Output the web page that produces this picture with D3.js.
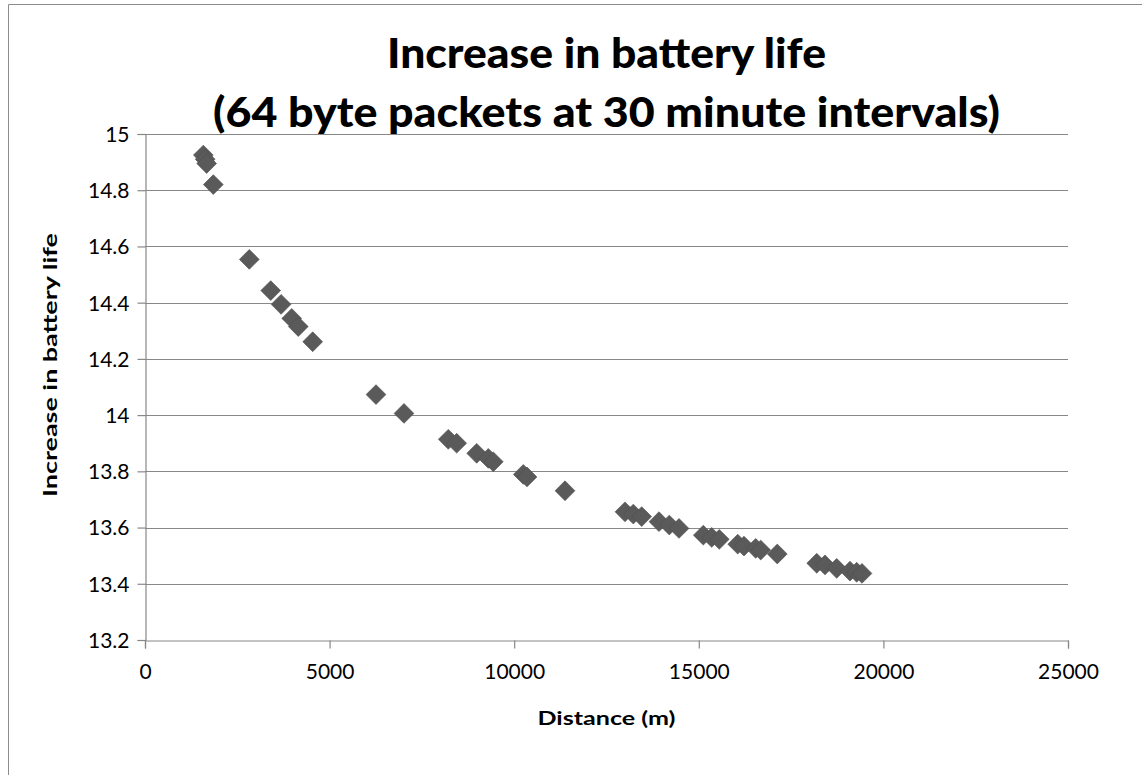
<!DOCTYPE html>
<html>
<head>
<meta charset="utf-8">
<script src="https://cdn.jsdelivr.net/npm/d3@7"></script>
<style>
  html, body { margin: 0; padding: 0; background: #fff; overflow: hidden; }
  svg { display: block; }
  text { font-family: "Lato", "Liberation Sans", sans-serif; fill: #000; }
</style>
</head>
<body>
<svg id="chart" width="1142" height="775"></svg>
<script>
// ---- data ----
const titleLines = ["Increase in battery life", "(64 byte packets at 30 minute intervals)"];
const xTitle = "Distance (m)";
const yTitle = "Increase in battery life";
const xTicks = [0, 5000, 10000, 15000, 20000, 25000];
const yTicks = [13.2, 13.4, 13.6, 13.8, 14, 14.2, 14.4, 14.6, 14.8, 15];
const distance = [1580, 1630, 1670, 1850, 2825, 3405, 3686, 3974, 4152, 4542,
  6257, 7015, 8215, 8442, 8984, 9299, 9434, 10246, 10347, 11376,
  13001, 13226, 13453, 13922, 14201, 14464, 15122, 15350, 15555, 16054,
  16224, 16541, 16677, 17126, 18194, 18418, 18735, 19095, 19276, 19420];
const batteryIncrease = [14.925, 14.91, 14.895, 14.82, 14.554, 14.443, 14.394, 14.344, 14.315, 14.261,
  14.073, 14.006, 13.914, 13.90, 13.864, 13.846, 13.834, 13.789, 13.78, 13.731,
  13.656, 13.648, 13.639, 13.621, 13.609, 13.597, 13.573, 13.565, 13.558, 13.541,
  13.534, 13.526, 13.520, 13.506, 13.473, 13.467, 13.455, 13.445, 13.441, 13.437];

// ---- layout ----
const svg = d3.select("#chart");
const plot = { left: 145, right: 1068, top: 134, bottom: 640 };
const gridColor = "#888888";

// outer chart border (only top/left edges fall inside the frame)
svg.append("path").attr("d", "M8.5,775 V4.5 H1142")
  .attr("fill", "none").attr("stroke", "#8c8c8c").attr("stroke-width", 1);

const x = d3.scaleLinear().domain([0, 25000]).range([plot.left, plot.right]);
const y = d3.scaleLinear().domain([13.2, 15]).range([plot.bottom, plot.top]);

// gridlines
svg.append("g").selectAll("line").data(yTicks.filter(d => d > 13.2)).join("line")
  .attr("x1", plot.left).attr("x2", plot.right)
  .attr("y1", d => Math.round(y(d)) + 0.5).attr("y2", d => Math.round(y(d)) + 0.5)
  .attr("stroke", gridColor).attr("stroke-width", 1.2);

// y axis
const yAxis = d3.axisLeft(y).tickValues(yTicks).tickSize(8).tickPadding(8)
  .tickFormat(d => d3.format("")(+d.toFixed(1)));
const gy = svg.append("g").attr("transform", `translate(${plot.left + 0.5},0)`).call(yAxis);
gy.select(".domain").attr("stroke", gridColor).attr("stroke-width", 1.2);
gy.selectAll(".tick line").attr("stroke", gridColor).attr("stroke-width", 1.2);
gy.selectAll(".tick text").attr("font-size", 21).attr("font-family", "Lato, 'Liberation Sans', sans-serif")
  .attr("fill", "#000").attr("dy", "0.35em");

// x axis
const xAxis = d3.axisBottom(x).tickValues(xTicks).tickSize(8).tickPadding(16).tickFormat(d3.format("d"));
const gx = svg.append("g").attr("transform", `translate(0,${plot.bottom + 0.5})`).call(xAxis);
gx.select(".domain").attr("stroke", gridColor).attr("stroke-width", 1.2);
gx.selectAll(".tick line").attr("stroke", gridColor).attr("stroke-width", 1.2);
gx.selectAll(".tick text").attr("font-size", 21).attr("font-family", "Lato, 'Liberation Sans', sans-serif")
  .attr("fill", "#000");

// markers
const diamond = d3.symbol().type(d3.symbolSquare).size(196)();
svg.append("g").selectAll("path").data(distance.map((d, i) => [d, batteryIncrease[i]])).join("path")
  .attr("d", diamond)
  .attr("transform", d => `translate(${x(d[0])},${y(d[1])}) rotate(45)`)
  .attr("fill", "#5a5a5a").attr("stroke", "#505050").attr("stroke-width", 0.6);

// title
const cx = (plot.left + plot.right) / 2;
svg.append("text").attr("x", cx).attr("y", 68).attr("text-anchor", "middle")
  .attr("font-size", 41).attr("font-weight", "900")
  .attr("textLength", 439).attr("lengthAdjust", "spacingAndGlyphs").text(titleLines[0]);
svg.append("text").attr("x", cx).attr("y", 127).attr("text-anchor", "middle")
  .attr("font-size", 41).attr("font-weight", "900")
  .attr("textLength", 787).attr("lengthAdjust", "spacingAndGlyphs").text(titleLines[1]);

// axis titles
svg.append("text").attr("x", cx).attr("y", 725).attr("text-anchor", "middle")
  .attr("font-size", 19).attr("font-weight", "bold")
  .attr("textLength", 138).attr("lengthAdjust", "spacingAndGlyphs").text(xTitle);
svg.append("text").attr("transform", "translate(57,365) rotate(-90)").attr("text-anchor", "middle")
  .attr("font-size", 19).attr("font-weight", "bold")
  .attr("textLength", 264).attr("lengthAdjust", "spacingAndGlyphs").text(yTitle);
</script>
</body>
</html>
